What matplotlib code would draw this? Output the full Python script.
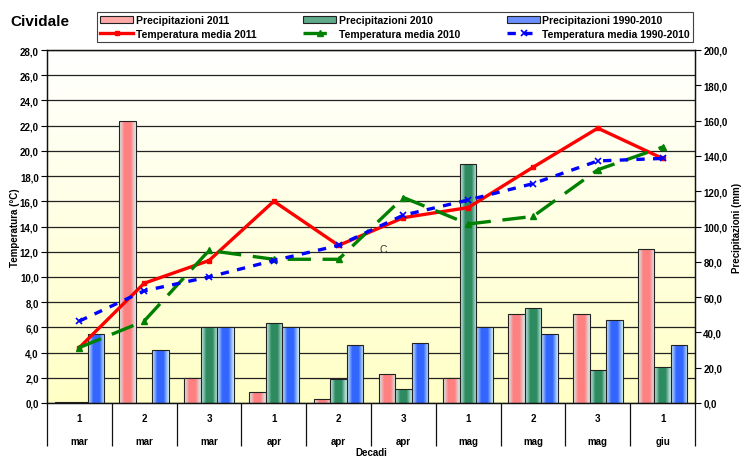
import matplotlib
matplotlib.use('Agg')
import matplotlib.pyplot as plt
import numpy as np
from matplotlib.colors import to_rgb
from matplotlib.patches import Patch

plt.rcParams['font.family'] = ['Liberation Sans', 'DejaVu Sans']

decadi = ['1', '2', '3', '1', '2', '3', '1', '2', '3', '1']
mesi = ['mar', 'mar', 'mar', 'apr', 'apr', 'apr', 'mag', 'mag', 'mag', 'giu']

# precipitazioni (mm)
prec_2011 = [0.3, 160.0, 14.4, 6.1, 2.5, 16.5, 14.2, 50.7, 50.7, 87.1]
prec_2010 = [0.5, 0.0, 42.9, 45.3, 13.6, 7.8, 135.4, 53.8, 18.8, 20.6]
prec_clima = [39.0, 29.8, 42.9, 42.9, 33.1, 33.9, 42.8, 39.0, 46.8, 33.1]

# temperature medie (C)
temp_2011 = [4.4, 9.5, 11.3, 16.0, 12.5, 14.7, 15.5, 18.7, 21.8, 19.4]
temp_2010 = [4.4, 6.5, 12.1, 11.4, 11.4, 16.3, 14.2, 14.8, 18.5, 20.3]
temp_clima = [6.5, 8.9, 10.0, 11.3, 12.5, 14.9, 16.1, 17.4, 19.2, 19.4]

TMAX = 28.0
PMAX = 200.0

fig = plt.figure(figsize=(7.41, 4.60), dpi=100)
ax = fig.add_axes([47 / 741, 56 / 460, 648 / 741, 353 / 460])
ax2 = ax.twinx()
ax.set_zorder(2)
ax2.set_zorder(1)
ax.patch.set_visible(False)

x = np.arange(len(decadi))
ax.set_xlim(-0.5, len(decadi) - 0.5)
ax2.set_xlim(-0.5, len(decadi) - 0.5)

# sfondo sfumato
grad = np.linspace(0, 1, 256)[:, None]
top = np.array(to_rgb('#FFFFFF'))
bot = np.array(to_rgb('#FFFFC6'))
bg = top[None, None, :] * (1 - grad[:, :, None]) + bot[None, None, :] * grad[:, :, None]
ax2.imshow(bg, extent=(-0.5, len(decadi) - 0.5, 0, PMAX), aspect='auto',
           origin='upper', zorder=0)

# griglia (allineata ai tick della temperatura)
temp_ticks = np.arange(0, TMAX + 0.1, 2)
for t in temp_ticks:
    ax2.axhline(t * PMAX / TMAX, color='#222222', lw=0.9, zorder=1)


def bar_gradient(axis, bars, color):
    edge = np.array(to_rgb('#D6F4F4'))
    c = np.array(to_rgb(color))
    s = np.linspace(0, 1, 64)
    w = 1 - np.abs(s - 0.5) * 2
    w = np.clip(w * 1.6, 0, 1)
    row = edge[None, :] * (1 - w[:, None]) + c[None, :] * w[:, None]
    img = row[None, :, :]
    for b in bars:
        if b.get_height() <= 0:
            continue
        x0 = b.get_x()
        x1 = x0 + b.get_width()
        im = axis.imshow(img, extent=(x0, x1, 0, b.get_height()), aspect='auto', zorder=2)
        im.set_clip_path(b)
        b.set_facecolor('none')


w = 0.255
b1 = ax2.bar(x - w, prec_2011, w, edgecolor='#222222', linewidth=0.8, zorder=3)
b2 = ax2.bar(x, prec_2010, w, edgecolor='#222222', linewidth=0.8, zorder=3)
b3 = ax2.bar(x + w, prec_clima, w, edgecolor='#222222', linewidth=0.8, zorder=3)
bar_gradient(ax2, b1, '#FF8080')
bar_gradient(ax2, b2, '#2E8B60')
bar_gradient(ax2, b3, '#3366FF')
ax2.set_xlim(-0.5, len(decadi) - 0.5)
ax2.set_ylim(0, PMAX)

l1, = ax.plot(x, temp_2011, color='#FF0000', lw=2.4, marker='s', ms=2.5)
l2, = ax.plot(x, temp_2010, color='#008000', lw=2.4, dashes=(7, 3.5), marker='^', ms=4)
l3, = ax.plot(x, temp_clima, color='#0000FF', lw=2.4, dashes=(2.5, 2.5), marker='x', ms=4, mew=1.2)
ax.set_ylim(0, TMAX)

ax.text(4.69, 12.25, 'C', fontsize=7.5, color='#333333', ha='center', va='center')

# assi
ax.set_yticks(temp_ticks)
ax.set_yticklabels(['{:.1f}'.format(t).replace('.', ',') for t in temp_ticks],
                   fontsize=7, fontweight='bold')
p_ticks = np.arange(0, PMAX + 1, 20)
ax2.set_yticks(p_ticks)
ax2.set_yticklabels(['{:.1f}'.format(p).replace('.', ',') for p in p_ticks],
                    fontsize=7, fontweight='bold')
ax.tick_params(axis='y', direction='out', length=4, width=0.8, pad=2)
ax2.tick_params(axis='y', direction='out', length=4, width=0.8, pad=2)
ax.set_xticks([])
ax2.set_xticks([])
for a in (ax, ax2):
    for s in a.spines.values():
        s.set_color('#111111')
        s.set_linewidth(0.9)

ax.set_ylabel('Temperatura (°C)', fontsize=7, fontweight='bold', labelpad=0)
ax2.set_ylabel('Precipitazioni (mm)', fontsize=7, fontweight='bold', labelpad=3)

# etichette categorie su due livelli
tr = ax.get_xaxis_transform()
ax.vlines(np.arange(len(decadi) + 1) - 0.5, -0.122, 0, transform=tr, color='#111111',
          lw=0.9, clip_on=False)
for i in range(len(decadi)):
    ax.text(i, -0.043, decadi[i], transform=tr, ha='center', va='center',
            fontsize=7, fontweight='bold')
    ax.text(i, -0.108, mesi[i], transform=tr, ha='center', va='center',
            fontsize=7, fontweight='bold')
ax.text(4.5, -0.14, 'Decadi', transform=tr, ha='center', va='center',
        fontsize=7, fontweight='bold')

fig.text(10 / 741, 1 - 22 / 460, 'Cividale', fontsize=11, fontweight='bold',
         ha='left', va='center')

handles = [Patch(facecolor='#FFA8A8', edgecolor='#222222', lw=0.8), l1,
           Patch(facecolor='#5FAA88', edgecolor='#222222', lw=0.8), l2,
           Patch(facecolor='#6B8FFF', edgecolor='#222222', lw=0.8), l3]
labels = ['Precipitazioni 2011', 'Temperatura media 2011',
          'Precipitazioni 2010', 'Temperatura media 2010',
          'Precipitazioni 1990-2010', 'Temperatura media 1990-2010']
leg = fig.legend(handles, labels, ncol=3, loc='center',
                 bbox_to_anchor=(97 / 741, 1 - 48 / 460, 596 / 741, 40 / 460),
                 mode='expand', fancybox=False, frameon=True, edgecolor='#111111',
                 prop={'size': 7.5, 'weight': 'bold'}, handlelength=3.2,
                 handletextpad=0.2, borderaxespad=0, labelspacing=0.4,
                 borderpad=0.3)
leg.get_frame().set_linewidth(0.8)

fig.savefig('out.png', dpi=100)
